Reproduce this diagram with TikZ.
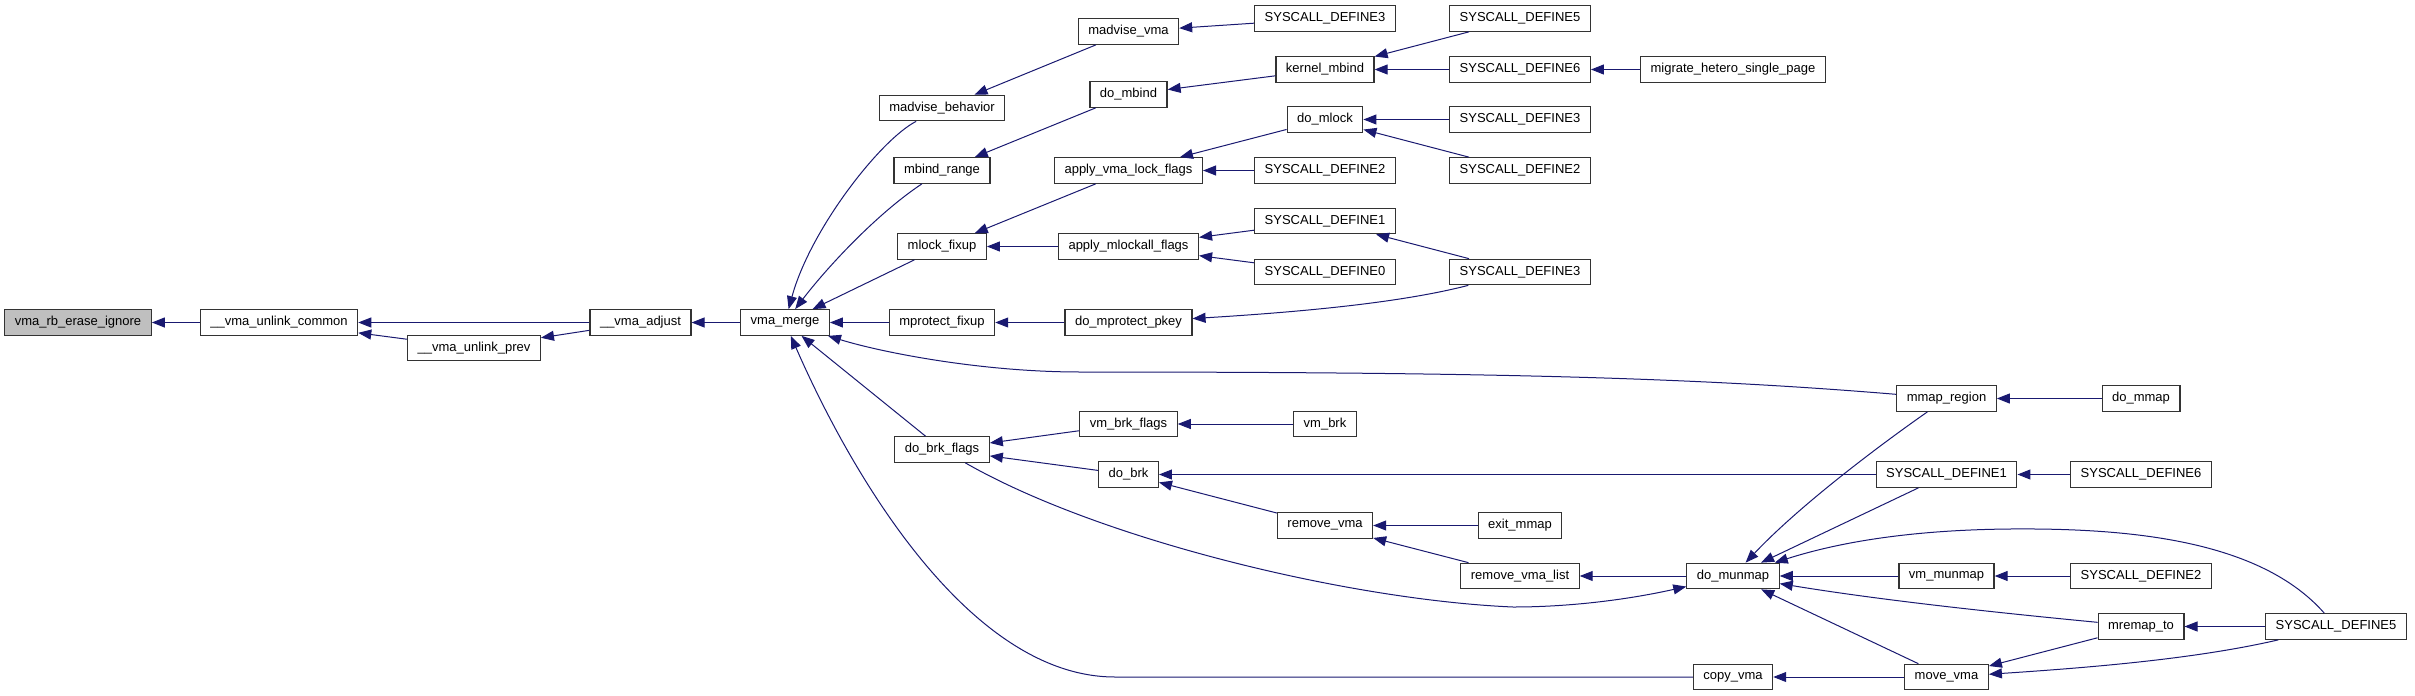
\documentclass[tikz,border=0pt]{standalone}
\usepackage{fontspec}
\setmainfont{Liberation Sans}
\usepackage{tikz}
\usetikzlibrary{arrows.meta}
\definecolor{midnight}{RGB}{25,25,112}
\definecolor{focusgray}{RGB}{191,191,191}

\begin{document}
\begin{tikzpicture}[x=1pt, y=-1pt,
  fn/.style={draw=black!80, line width=1.2pt, fill=white, minimum height=25.5pt,
    inner xsep=10pt, inner ysep=0pt, font=\fontsize{13}{15}\selectfont},
  call/.style={draw=midnight, line width=1pt, -{Triangle[length=13pt,width=10pt]}}]

\useasboundingbox (0,0) rectangle (2415,696);

% --- Left chain down to the function itself ---
\node[fn, fill=focusgray] (erase) at (78,322.5) {vma\_rb\_erase\_ignore};
\node[fn] (common) at (279,322.5) {\_\_vma\_unlink\_common};
\node[fn] (prev) at (474,348) {\_\_vma\_unlink\_prev};
\node[fn] (adjust) at (640.5,322.5) {\_\_vma\_adjust};
\node[fn] (merge) at (785,322.5) {vma\_merge};

% --- Callers of vma_merge ---
\node[fn] (madvbeh) at (942,108) {madvise\_behavior};
\node[fn] (mbindrange) at (942,170.5) {mbind\_range};
\node[fn] (mlockfix) at (942,246.5) {mlock\_fixup};
\node[fn] (mprotfix) at (942,322.5) {mprotect\_fixup};
\node[fn] (brkflags) at (942,449.5) {do\_brk\_flags};

% --- Third column ---
\node[fn] (madvvma) at (1128.5,31.5) {madvise\_vma};
\node[fn] (dombind) at (1128.5,94.5) {do\_mbind};
\node[fn] (vmalock) at (1128.5,170.5) {apply\_vma\_lock\_flags};
\node[fn] (mlockall) at (1128.5,246.5) {apply\_mlockall\_flags};
\node[fn] (protpkey) at (1128.5,322.5) {do\_mprotect\_pkey};
\node[fn] (vmbrkfl) at (1128.5,424) {vm\_brk\_flags};
\node[fn] (dobrk) at (1128.5,474.5) {do\_brk};

% --- Fourth column ---
\node[fn] (sdthreeA) at (1325,18.5) {SYSCALL\_DEFINE3};
\node[fn] (kmbind) at (1325,69.5) {kernel\_mbind};
\node[fn] (domlock) at (1325,119.5) {do\_mlock};
\node[fn] (sdtwoA) at (1325,170.5) {SYSCALL\_DEFINE2};
\node[fn] (sdoneA) at (1325,221) {SYSCALL\_DEFINE1};
\node[fn] (sdzero) at (1325,272) {SYSCALL\_DEFINE0};
\node[fn] (vmbrk) at (1325,424) {vm\_brk};
\node[fn] (rmvma) at (1325,525.5) {remove\_vma};

% --- Fifth column ---
\node[fn] (sdfiveA) at (1520,18.5) {SYSCALL\_DEFINE5};
\node[fn] (sdsixA) at (1520,69.5) {SYSCALL\_DEFINE6};
\node[fn] (sdthreeB) at (1520,119.5) {SYSCALL\_DEFINE3};
\node[fn] (sdtwoB) at (1520,170.5) {SYSCALL\_DEFINE2};
\node[fn] (sdthreeC) at (1520,272) {SYSCALL\_DEFINE3};
\node[fn] (exitmmap) at (1520,525.5) {exit\_mmap};
\node[fn] (rmlist) at (1520,576) {remove\_vma\_list};

% --- Right part ---
\node[fn] (migrate) at (1733,69.5) {migrate\_hetero\_single\_page};
\node[fn] (munmap) at (1733,576) {do\_munmap};
\node[fn] (copyvma) at (1733,677) {copy\_vma};
\node[fn] (mmapreg) at (1946.5,398.5) {mmap\_region};
\node[fn] (sdoneB) at (1946.5,474.5) {SYSCALL\_DEFINE1};
\node[fn] (vmunmap) at (1946.5,576) {vm\_munmap};
\node[fn] (movevma) at (1946.5,677) {move\_vma};
\node[fn] (dommap) at (2141,398.5) {do\_mmap};
\node[fn] (sdsixB) at (2141,474.5) {SYSCALL\_DEFINE6};
\node[fn] (sdtwoC) at (2141,576) {SYSCALL\_DEFINE2};
\node[fn] (mremap) at (2141,626.5) {mremap\_to};
\node[fn] (sdfiveB) at (2336,626.5) {SYSCALL\_DEFINE5};

% --- Calls (caller -> callee) ---
\draw[call] (common) -- (erase);
\draw[call] (adjust) -- (common);
\draw[call] (prev) -- (common);
\draw[call] (adjust) -- (prev);
\draw[call] (merge) -- (adjust);

\draw[call] (madvbeh) .. controls (880,140) and (810,230) .. (merge);
\draw[call] (mbindrange) .. controls (875,215) and (825,270) .. (merge);
\draw[call] (mlockfix) -- (merge);
\draw[call] (mprotfix) -- (merge);
\draw[call] (brkflags) -- (merge);
\draw[call] (mmapreg) .. controls (1700,378) and (1500,372) .. (1080,372)
  .. controls (980,372) and (880,352) .. (merge);
\draw[call] (copyvma) -- (1115,677) .. controls (970,677) and (852,476) .. (merge);

\draw[call] (madvvma) -- (madvbeh);
\draw[call] (sdthreeA) -- (madvvma);
\draw[call] (dombind) -- (mbindrange);
\draw[call] (kmbind) -- (dombind);
\draw[call] (sdfiveA) -- (kmbind);
\draw[call] (sdsixA) -- (kmbind);
\draw[call] (migrate) -- (sdsixA);

\draw[call] (vmalock) -- (mlockfix);
\draw[call] (mlockall) -- (mlockfix);
\draw[call] (domlock) -- (vmalock);
\draw[call] (sdthreeB) -- (domlock);
\draw[call] (sdtwoB) -- (domlock);
\draw[call] (sdtwoA) -- (vmalock);
\draw[call] (sdoneA) -- (mlockall);
\draw[call] (sdzero) -- (mlockall);
\draw[call] (sdthreeC) -- (sdoneA);
\draw[call] (sdthreeC) .. controls (1400,303) and (1300,312) .. (protpkey);
\draw[call] (protpkey) -- (mprotfix);

\draw[call] (vmbrkfl) -- (brkflags);
\draw[call] (vmbrk) -- (vmbrkfl);
\draw[call] (dobrk) -- (brkflags);
\draw[call] (sdoneB) -- (dobrk);
\draw[call] (rmvma) -- (dobrk);
\draw[call] (exitmmap) -- (rmvma);
\draw[call] (rmlist) -- (rmvma);
\draw[call] (munmap) -- (rmlist);
\draw[call] (brkflags) .. controls (1100,540) and (1350,600) .. (1513,607)
  .. controls (1580,607) and (1640,597) .. (munmap);

\draw[call] (mmapreg) .. controls (1880,445) and (1800,505) .. (munmap);
\draw[call] (sdoneB) -- (munmap);
\draw[call] (sdfiveB) .. controls (2260,540) and (2130,528) .. (2010,529)
  .. controls (1900,530) and (1830,545) .. (munmap);
\draw[call] (vmunmap) -- (munmap);
\draw[call] (mremap) .. controls (1990,612) and (1880,600) .. (munmap);
\draw[call] (movevma) -- (munmap);
\draw[call] (dommap) -- (mmapreg);
\draw[call] (sdsixB) -- (sdoneB);
\draw[call] (sdtwoC) -- (vmunmap);
\draw[call] (sdfiveB) -- (mremap);
\draw[call] (mremap) -- (movevma);
\draw[call] (sdfiveB) .. controls (2200,658) and (2100,667) .. (movevma);
\draw[call] (movevma) -- (copyvma);

\end{tikzpicture}
\end{document}
